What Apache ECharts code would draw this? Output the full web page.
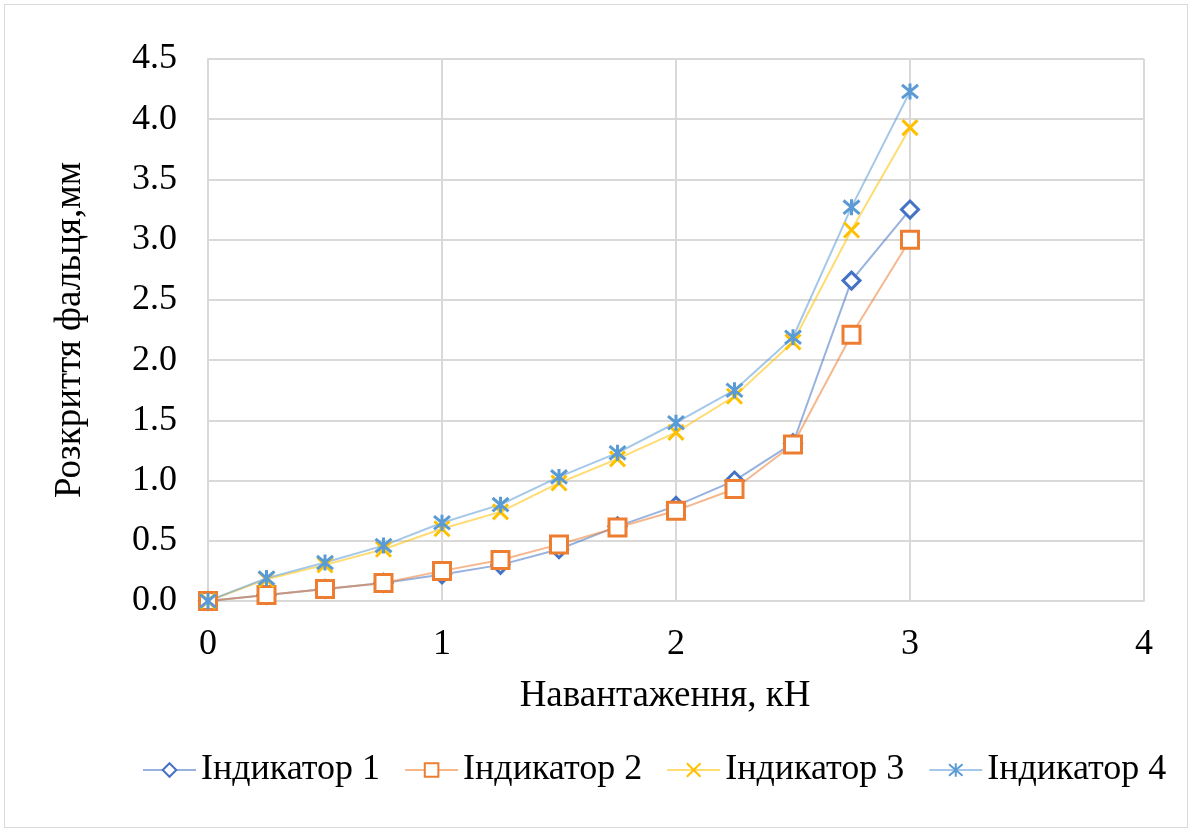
<!DOCTYPE html>
<html><head><meta charset="utf-8">
<script src="https://cdn.jsdelivr.net/npm/echarts@6/dist/echarts.min.js"></script>
<style>
html,body{margin:0;padding:0;background:#fff;}
#c{position:absolute;left:0;top:0;width:1192px;height:832px;}
#b{position:absolute;left:4px;top:4px;width:1182px;height:822px;border:1px solid #d9d9d9;}
</style></head>
<body><div id="b"></div><div id="c"></div>
<script>
const xValues = [0, 0.25, 0.5, 0.75, 1, 1.25, 1.5, 1.75, 2, 2.25, 2.5, 2.75, 3];
const ind1 = [0, 0.05, 0.10, 0.15, 0.22, 0.30, 0.43, 0.62, 0.79, 1.00, 1.31, 2.66, 3.25];
const ind2 = [0, 0.05, 0.10, 0.15, 0.25, 0.34, 0.47, 0.61, 0.75, 0.93, 1.30, 2.21, 3.00];
const ind3 = [0, 0.18, 0.30, 0.43, 0.60, 0.74, 0.98, 1.18, 1.40, 1.70, 2.15, 3.08, 3.93];
const ind4 = [0, 0.19, 0.32, 0.46, 0.65, 0.80, 1.03, 1.23, 1.48, 1.75, 2.19, 3.27, 4.23];
const seriesNames = ['Індикатор 1', 'Індикатор 2', 'Індикатор 3', 'Індикатор 4'];
const xTitle = 'Навантаження, кН';
const yTitle = 'Розкриття фальця,мм';

const font = '"Liberation Serif","Times New Roman",serif';
const pair = arr => xValues.map((x, i) => [x, arr[i]]);
const XPATH = 'path://M0,0L10,10M10,0L0,10';
const STAR = 'path://M0,0L10,10M10,0L0,10M5,-1L5,11';
function mk(name, data, color, symbol, size) {
  return {
    name: name, type: 'line', data: pair(data), symbol: symbol, symbolSize: size,
    showAllSymbol: true,
    lineStyle: {color: color, width: 2, opacity: 0.55},
    itemStyle: {color: symbol.startsWith('path') ? 'rgba(0,0,0,0)' : '#fff', borderColor: color, borderWidth: 3},
    emphasis: {disabled: true},
    z: 2
  };
}
const chart = echarts.init(document.getElementById('c'));
chart.setOption({
  animation: false,
  grid: {left: 208, right: 48, top: 59, bottom: 231},
  xAxis: {
    type: 'value', min: 0, max: 4, interval: 1,
    name: xTitle, nameLocation: 'middle', nameGap: 77,
    nameTextStyle: {fontFamily: font, fontSize: 37, color: '#000', padding: [0, 22, 0, 0]},
    axisLine: {show: true, lineStyle: {color: '#d9d9d9', width: 2}},
    axisTick: {show: false},
    axisLabel: {fontFamily: font, fontSize: 36, color: '#000', margin: 26},
    splitLine: {show: true, lineStyle: {color: '#d9d9d9', width: 2}}
  },
  yAxis: {
    type: 'value', min: 0, max: 4.5, interval: 0.5,
    name: yTitle, nameLocation: 'middle', nameGap: 119,
    nameTextStyle: {fontFamily: font, fontSize: 37, color: '#000'},
    axisLine: {show: true, lineStyle: {color: '#d9d9d9', width: 2}},
    axisTick: {show: false},
    axisLabel: {fontFamily: font, fontSize: 36, color: '#000', margin: 31,
      formatter: v => v.toFixed(1)},
    splitLine: {show: true, lineStyle: {color: '#d9d9d9', width: 2}}
  },
  legend: {
    top: 747, left: 137, itemWidth: 53, itemHeight: 17, itemGap: 24,
    textStyle: {fontFamily: font, fontSize: 36, color: '#000'},
    data: seriesNames
  },
  series: [
    mk(seriesNames[0], ind1, '#4472C4', 'diamond', 17),
    mk(seriesNames[1], ind2, '#ED7D31', 'rect', 17),
    mk(seriesNames[2], ind3, '#FFC000', XPATH, 15),
    mk(seriesNames[3], ind4, '#5B9BD5', STAR, 16)
  ]
});
</script></body></html>
